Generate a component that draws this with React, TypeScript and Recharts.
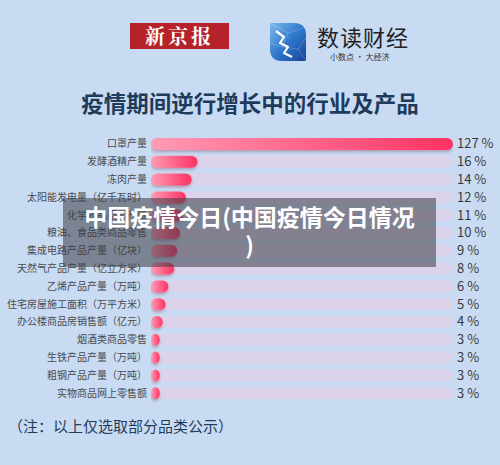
import React from "react";
import { BarChart, Bar, XAxis, YAxis } from "recharts";

const categories = [
  "口罩产量",
  "发酵酒精产量",
  "冻肉产量",
  "太阳能发电量（亿千瓦时）",
  "化学药品原药产量",
  "粮油、食品类商品零售",
  "集成电路产品产量（亿块）",
  "天然气产品产量（亿立方米）",
  "乙烯产品产量（万吨）",
  "住宅房屋施工面积（万平方米）",
  "办公楼商品房销售额（亿元）",
  "烟酒类商品零售",
  "生铁产品产量（万吨）",
  "粗钢产品产量（万吨）",
  "实物商品网上零售额",
];
const growth = [127, 16, 14, 12, 11, 10, 9, 8, 6, 5, 4, 3, 3, 3, 3];

const data = categories.map((name, i) => ({
  name,
  value: growth[i],
  pct: `${growth[i]} %`,
}));

const FONT = '"Noto Sans CJK SC", "Noto Sans", sans-serif';

// the long bar is capped at the end of its track, like the original
function PillBar(props: any) {
  const { x, y, width, height, background } = props;
  const maxW = background?.width ?? width;
  const w = Math.max(Math.min(width, maxW), 0);
  const r = Math.min(height / 2, w / 2);
  return (
    <rect
      x={x}
      y={y}
      width={w}
      height={height}
      rx={r}
      ry={height / 2}
      fill="url(#barGrad)"
      filter="url(#barShadow)"
    />
  );
}

function NameTick({ x, y, payload }: any) {
  return (
    <text x={x} y={y} dy={3.5} textAnchor="end" fontSize={10} fill="#4a4a4a" fontFamily={FONT}>
      {payload.value}
    </text>
  );
}

function PctTick({ x, y, payload }: any) {
  return (
    <text x={x} y={y} dy={4.5} textAnchor="start" fontSize={13} fill="#3a3a3a" fontFamily={FONT}>
      {payload.value}
    </text>
  );
}

function Logo() {
  return (
    <svg width={36} height={38} viewBox="0 0 36 38" style={{ position: "absolute", left: 270, top: 23 }}>
      <defs>
        <linearGradient id="logoGrad" x1="0" y1="0" x2="1" y2="1">
          <stop offset="0%" stopColor="#7cbcec" />
          <stop offset="50%" stopColor="#2f78cc" />
          <stop offset="100%" stopColor="#17449a" />
        </linearGradient>
      </defs>
      <path d="M0 0 H24 Q36 0 36 12 V38 H12 Q0 38 0 26 Z" fill="url(#logoGrad)" />
      <path d="M0 0 L18 10 L36 4 M18 10 L12 24 L0 20 M12 24 L28 26 L36 38 M28 26 L36 14" stroke="rgba(255,255,255,0.25)" strokeWidth={0.8} fill="none" />
      <path d="M6 8 L14 14 L10 20 L18 24 L14 30 L22 34" stroke="#fff" strokeWidth={2.2} fill="none" strokeLinejoin="round" />
    </svg>
  );
}

export default function App() {
  return (
    <div
      style={{
        position: "fixed",
        left: 0,
        top: 0,
        width: 500,
        height: 465,
        background: "#c9dbf2",
        fontFamily: FONT,
        overflow: "hidden",
      }}
    >
      <div
        style={{
          position: "absolute",
          left: 130,
          top: 23,
          width: 99,
          height: 26,
          background: "#b5222a",
          color: "#fff",
          fontSize: 20,
          fontWeight: 700,
          lineHeight: "26px",
          textAlign: "center",
          letterSpacing: 3,
          fontFamily: '"Noto Serif CJK SC", ' + FONT,
        }}
      >
        新京报
      </div>
      <Logo />
      <div style={{ position: "absolute", left: 317, top: 22, fontSize: 22, color: "#222", lineHeight: "28px", letterSpacing: 1 }}>
        数读财经
      </div>
      <div style={{ position: "absolute", left: 330, top: 51, fontSize: 8, color: "#333", lineHeight: "11px" }}>
        小数点 · 大经济
      </div>
      <div
        style={{
          position: "absolute",
          left: 0,
          top: 88,
          width: 500,
          textAlign: "center",
          fontSize: 22.5,
          fontWeight: 700,
          color: "#1f3b5c",
          lineHeight: "28px",
        }}
      >
        疫情期间逆行增长中的行业及产品
      </div>

      <div style={{ position: "absolute", left: 0, top: 0 }}>
        <BarChart
          width={500}
          height={465}
          data={data}
          layout="vertical"
          margin={{ top: 135, right: 0, bottom: 63, left: 0 }}
          barSize={12}
        >
          <defs>
            <linearGradient id="barGrad" x1="0" y1="0" x2="1" y2="0">
              <stop offset="0%" stopColor="#ff9bb4" />
              <stop offset="100%" stopColor="#ff3263" />
            </linearGradient>
            <filter id="barShadow" x="-20%" y="-50%" width="140%" height="220%">
              <feDropShadow dx={0} dy={2} stdDeviation={1.4} floodColor="#7a2a48" floodOpacity={0.35} />
            </filter>
          </defs>
          <XAxis type="number" hide domain={[0, 104]} allowDataOverflow />
          <YAxis
            type="category"
            dataKey="name"
            width={151}
            axisLine={false}
            tickLine={false}
            tickSize={0}
            tickMargin={4}
            interval={0}
            tick={<NameTick />}
          />
          <YAxis
            yAxisId="pct"
            type="category"
            dataKey="pct"
            orientation="right"
            width={47}
            axisLine={false}
            tickLine={false}
            tickSize={0}
            tickMargin={4}
            interval={0}
            tick={<PctTick />}
          />
          <Bar
            dataKey="value"
            isAnimationActive={false}
            background={{ fill: "#dcd3ea", radius: 6 } as any}
            shape={<PillBar />}
          />
        </BarChart>
      </div>

      <div
        style={{
          position: "absolute",
          left: 63,
          top: 198,
          width: 373,
          height: 69,
          background: "rgba(60,60,70,0.55)",
          color: "#fff",
          fontSize: 23,
          fontWeight: 700,
          textAlign: "center",
          lineHeight: "28px",
          paddingTop: 4,
          boxSizing: "border-box",
        }}
      >
        中国疫情今日(中国疫情今日情况
        <br />)
      </div>

      <div style={{ position: "absolute", left: 8, top: 416, fontSize: 15, color: "#1f3b5c", lineHeight: "20px" }}>
        （注：以上仅选取部分品类公示）
      </div>
    </div>
  );
}
